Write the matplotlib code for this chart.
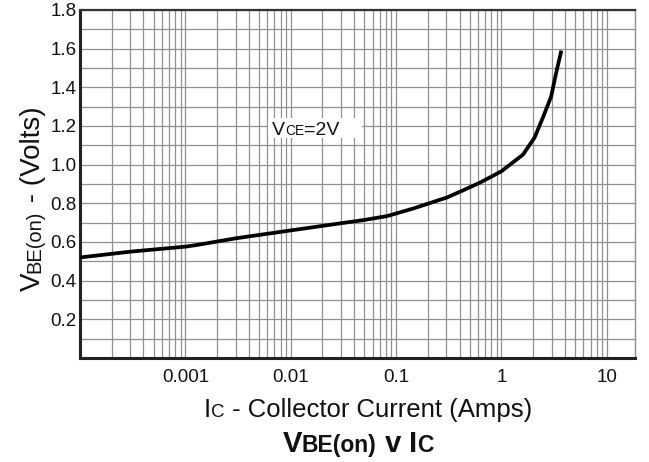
"""
VBE(on) vs collector current chart, log-x with full grid.
"""

import matplotlib
matplotlib.use("Agg")
import matplotlib.pyplot as plt
import matplotlib.patches as patches
from matplotlib.ticker import FixedLocator, LogLocator, MultipleLocator, FuncFormatter, NullFormatter
from matplotlib.transforms import IdentityTransform

plt.rcParams["font.family"] = ["Liberation Sans", "DejaVu Sans"]

# curve
ic_amps = [1e-4, 3e-4, 1e-3, 1.3e-3, 3e-3, 0.01, 0.03, 0.05, 0.082, 0.147, 0.306, 0.44, 0.635,
           1.0, 1.6, 2.06, 2.5, 2.96, 3.3, 3.7]
vbe_volts = [0.52, 0.55, 0.576, 0.585, 0.619, 0.66, 0.697, 0.714, 0.734, 0.774, 0.831, 0.869, 0.909,
             0.966, 1.052, 1.14, 1.25, 1.352, 1.474, 1.59]

x_ticks = [0.001, 0.01, 0.1, 1, 10]
y_ticks = [0.2, 0.4, 0.6, 0.8, 1.0, 1.2, 1.4, 1.6, 1.8]
x_range = (1e-4, 18.5)
y_range = (0.0, 1.8)

W, H = 649, 462


def mixed_text(fig, x, y, parts, rotation=0, weight="normal"):
    """Draw pieces of text of different sizes on one baseline, centred on (x, y) in pixels."""
    r = fig.canvas.get_renderer()
    arts, sizes = [], []
    for s, size in parts:
        t = fig.text(0, 0, s, fontsize=size, fontweight=weight, ha="left", va="baseline",
                     rotation_mode="anchor", transform=IdentityTransform(), color="#111111")
        arts.append(t)
        sizes.append(t.get_window_extent(r).width)
    pos = -sum(sizes) / 2
    for t, w in zip(arts, sizes):
        if rotation == 90:
            t.set_rotation(90)
            t.set_position((x, y + pos))
        else:
            t.set_position((x + pos, y))
        pos += w
    return arts


fig = plt.figure(figsize=(W / 100, H / 100), dpi=100)
ax = fig.add_axes([80 / W, 1 - 358 / H, 555 / W, 348 / H])
ax.set_axisbelow(True)

ax.plot(ic_amps, vbe_volts, color="black", lw=2.7, solid_capstyle="butt", zorder=3)

ax.set_xscale("log")
ax.set_xlim(*x_range)
ax.set_ylim(*y_range)

ax.xaxis.set_major_locator(FixedLocator(x_ticks))
ax.xaxis.set_major_formatter(FuncFormatter(lambda v, _: f"{v:g}"))
ax.xaxis.set_minor_locator(LogLocator(base=10, subs=range(2, 10), numticks=20))
ax.xaxis.set_minor_formatter(NullFormatter())
ax.yaxis.set_major_locator(FixedLocator(y_ticks))
ax.yaxis.set_major_formatter(FuncFormatter(lambda v, _: f"{v:.1f}"))
ax.yaxis.set_minor_locator(MultipleLocator(0.1))

ax.grid(which="both", color="#909090", lw=0.9)
ax.tick_params(which="both", length=0, labelsize=13.5, colors="#111111")
ax.tick_params(axis="x", pad=8)
ax.tick_params(axis="y", pad=2.5)

for side, lw, col in [("left", 2.2, "#222222"), ("bottom", 2.2, "#222222"),
                      ("top", 1.6, "#333333"), ("right", 1.0, "#909090")]:
    ax.spines[side].set_linewidth(lw)
    ax.spines[side].set_color(col)

# white patch behind the VCE note
ax.add_patch(patches.Rectangle((0.339, 0.632), 0.169, 0.058, transform=ax.transAxes,
                               facecolor="white", edgecolor="none", zorder=2))

mixed_text(fig, 306, H - 135, [("V", 14), ("CE", 10), ("=2V", 14)])
mixed_text(fig, 368, H - 417, [("I", 18.5), ("C", 13.5), (" - Collector Current (Amps)", 18.5)])
mixed_text(fig, 358, H - 452, [("V", 21), ("BE(on)", 16.5), (" v ", 21), ("I", 21), ("C", 16.5)], weight="bold")
mixed_text(fig, 40, H - 199, [("V", 20), ("BE(on)", 14.5), (" - (Volts)", 20)], rotation=90)

fig.savefig("out.png", dpi=100)
